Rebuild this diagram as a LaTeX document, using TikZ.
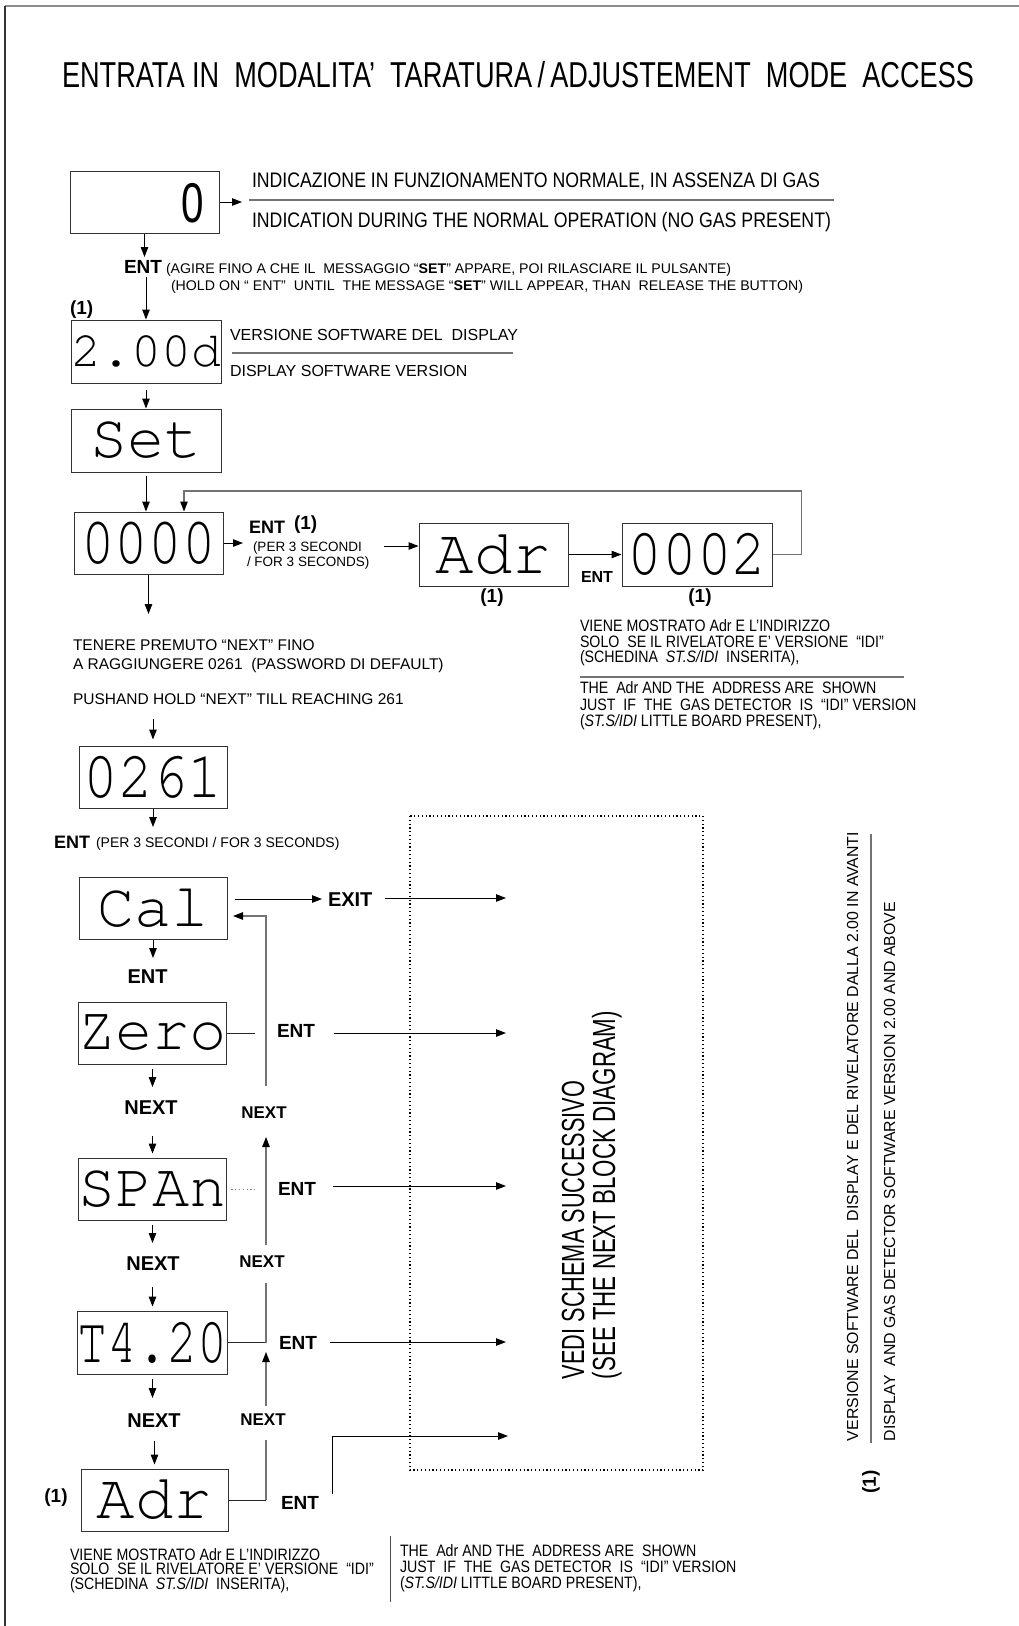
\documentclass[tikz,border=0pt]{standalone}
\usepackage{fontspec}
\usepackage{graphicx}
\usetikzlibrary{arrows.meta,calc}
\setmainfont{Liberation Sans}
\newfontfamily\ar{Liberation Sans}
\newfontfamily\arn{Liberation Sans}[FakeStretch=0.86]
\newfontfamily\mo{texgyrecursor-regular.otf}
\newcommand\fs[1]{\fontsize{#1}{#1}\selectfont}
\newcommand\rw[2]{\resizebox{#1pt}{\height}{#2}}
\begin{document}
\begin{tikzpicture}[x=1pt,y=-1pt,
  box/.style={draw=black!80, line width=1pt, inner sep=0, minimum width=149pt, minimum height=62pt},
  tx/.style={anchor=base west, inner sep=0, outer sep=0},
  lab/.style={inner sep=0, outer sep=0},
  arw/.style={line width=1pt, -{Triangle[length=10pt,width=7.5pt]}},
  ln/.style={line width=1pt, draw=black!85},
  gl/.style={line width=1.2pt, draw=black!55},
  gtip/.style={-{Triangle[length=10pt,width=7.5pt,color=black]}},
  rul/.style={line width=1.1pt, draw=black!55},
  dots/.style={line width=1.1pt, dash pattern=on 1.2pt off 2.6pt}]
\useasboundingbox (0,0) rectangle (1019,1626);
\fill[white] (0,0) rectangle (1019,1626);
% frame
\draw[line width=2.5pt, black!45] (5,6) -- (1019,6);
\draw[line width=1.2pt, black!80] (5,6) -- (5,1626);
% title
\node[tx] (title) at (62,87) {\arn\fs{36}\rw{912}{ENTRATA IN\ \ MODALITA’\ \ TARATURA\,/\,ADJUSTEMENT\ \ MODE\ \ ACCESS}};

% box 0
\node[box] (b0) at (144.5,202) {};
\node[lab] (d0) at (193,203) {\ar\fs{56}\scalebox{0.72}[1]{0}};
\coordinate (b0e) at (242,202);
\draw[arw] (b0.east) -- (b0e);
\node[tx] (t1) at (252,187) {\arn\fs{21}\rw{568}{INDICAZIONE IN FUNZIONAMENTO NORMALE, IN ASSENZA DI GAS}};
\draw[rul] (249,200) -- (834,200);
\node[tx] (t2) at (252,227) {\arn\fs{21}\rw{579}{INDICATION DURING THE NORMAL OPERATION (NO GAS PRESENT)}};
\coordinate (b0d) at (144.5,257);
\draw[arw] (b0.south) -- (b0d);
\node[tx] (e1) at (124,273) {\ar\bfseries\fs{19}ENT};
\node[tx] (p1) at (166,273) {\arn\fs{14}\rw{565}{(AGIRE FINO A CHE IL\ \ MESSAGGIO “\textbf{SET}” APPARE, POI RILASCIARE IL PULSANTE)}};
\node[tx] (p2) at (171,290) {\arn\fs{14}\rw{632}{(HOLD ON “ ENT”\ \ UNTIL\ \ THE MESSAGE “\textbf{SET}” WILL APPEAR, THAN\ \ RELEASE THE BUTTON)}};
\node[tx] (n1a) at (70,314) {\ar\bfseries\fs{19}(1)};

% 2.00d
\node[box, minimum width=150pt, minimum height=63pt] (b200d) at (146,351.5) {\mo\fs{50}2.00d};
\coordinate (c1) at (146,277);
\draw[arw] (c1) -- (b200d.north);
\node[tx] (v1) at (230,340) {\ar\fs{16}VERSIONE SOFTWARE DEL\ \ DISPLAY};
\draw[rul] (232,353) -- (513,353);
\node[tx] (v2) at (230,376) {\ar\fs{16}DISPLAY SOFTWARE VERSION};

% Set
\node[box, minimum width=150pt, minimum height=63pt] (bset) at (146,440.5) {\mo\fs{62}Set};
\draw[arw, shorten <=6pt] (b200d.south) -- (bset.north);

% 0000
\node[box] (b0000) at (148.5,543) {\mo\fs{56}\scalebox{1}[1.2]{0000}};
\draw[arw, shorten <=3pt] (bset.south) -- (bset.south |- b0000.north);
\coordinate (b0000e) at (243,543);
\draw[arw] (b0000.east) -- (b0000e);
\node[tx] (e2) at (249,533) {\ar\bfseries\fs{18}ENT};
\node[tx] (n1b) at (294,529) {\ar\bfseries\fs{19}(1)};
\node[tx] (p3) at (253,551) {\ar\fs{13.5}(PER 3 SECONDI};
\node[tx] (p4) at (247,566) {\ar\fs{13.5}/ FOR 3 SECONDS)};

% Adr / 0002
\node[box, minimum height=63pt] (badr1) at (493.5,554.5) {\mo\fs{64}Adr};
\coordinate (c2) at (384,546);
\draw[arw] (c2) -- (c2 -| badr1.west);
\node[lab] (n1c) at (492,598) {\ar\bfseries\fs{19}(1)};
\node[box, minimum width=150pt, minimum height=63pt] (b0002) at (697,554.5) {\mo\fs{58}\scalebox{1}[1.15]{0002}};
\draw[arw] (badr1.east) -- (b0002.west);
\node[lab] (e3) at (597,577) {\ar\bfseries\fs{16}ENT};
\node[lab] (n1d) at (700,598) {\ar\bfseries\fs{19}(1)};
\coordinate (fbc) at (184,491);
\draw[gl, gtip] (b0002.east) -- ++(29,0) |- (fbc) -- (fbc |- b0000.north);

\node[tx] (u1) at (580,631) {\arn\fs{16.5}VIENE MOSTRATO Adr E L’INDIRIZZO};
\node[tx] (u2) at (580,647) {\arn\fs{16.5}SOLO\ \ SE IL RIVELATORE E’ VERSIONE\ \ “IDI”};
\node[tx] (u3) at (580,662) {\arn\fs{16.5}(SCHEDINA\ \ \textit{ST.S/IDI}\ \ INSERITA),};
\draw[rul] (580,677) -- (904,677);
\node[tx] (u4) at (580,693) {\arn\fs{16.5}THE\ \ Adr AND THE\ \ ADDRESS ARE\ \ SHOWN};
\node[tx] (u5) at (580,710) {\arn\fs{16.5}JUST\ \ IF\ \ THE\ \ GAS DETECTOR\ \ IS\ \ “IDI” VERSION};
\node[tx] (u6) at (580,726) {\arn\fs{16.5}(\textit{ST.S/IDI} LITTLE BOARD PRESENT),};

% password text
\coordinate (b0000d) at (148.5,614);
\draw[arw] (b0000.south) -- (b0000d);
\node[tx] (tn1) at (73,650) {\ar\fs{15.5}TENERE PREMUTO “NEXT” FINO};
\node[tx] (tn2) at (73,669) {\ar\fs{15.5}A RAGGIUNGERE 0261\ \ (PASSWORD DI DEFAULT)};
\node[tx] (tn3) at (73,704) {\ar\fs{15.5}PUSHAND HOLD “NEXT” TILL REACHING 261};

% 0261
\node[box, minimum width=148pt] (b0261) at (153,777) {\mo\fs{58}\scalebox{1}[1.15]{0261}};
\coordinate (c3) at (153,719);
\draw[arw, shorten >=6pt] (c3) -- (b0261.north);
\coordinate (b0261d) at (153,827);
\draw[arw] (b0261.south) -- (b0261d);
\node[tx] (e4) at (54,848) {\ar\bfseries\fs{18}ENT};
\node[tx] (p5) at (96,847) {\ar\fs{14}(PER 3 SECONDI / FOR 3 SECONDS)};

% Cal
\node[box, minimum width=148pt] (bcal) at (153,908) {\mo\fs{62}Cal};
\coordinate (calx) at (322,899);
\draw[arw, shorten <=7pt] (bcal.east |- calx) -- (calx);
\node[tx] (ex) at (328,906) {\ar\bfseries\fs{20}EXIT};
\coordinate (c4) at (385,898);
\coordinate (c4e) at (506,898);
\draw[arw] (c4) -- (c4e);
\coordinate (bcald) at (153,958);
\draw[arw] (bcal.south) -- (bcald);
\node[lab] (e5) at (147.5,977) {\ar\bfseries\fs{20}ENT};

% Zero
\node[box, minimum width=147pt] (bzero) at (152.5,1033) {\mo\fs{62}Zero};
\coordinate (zs) at (255,1033);
\draw[ln] (bzero.east) -- (zs);
\node[anchor=west, lab] (e6) at (277,1031) {\ar\bfseries\fs{19}ENT};
\coordinate (z1) at (334,1033);
\coordinate (z1e) at (506,1033);
\draw[arw] (z1) -- (z1e);
\coordinate (zd) at (152.5,1087);
\draw[arw, shorten <=4pt] (bzero.south) -- (zd);
\node[lab] (nx1) at (151,1108) {\ar\bfseries\fs{20}NEXT};

% SPAn
\node[box, minimum width=147pt] (bspan) at (152.5,1189) {\mo\fs{62}SPAn};
\coordinate (c5) at (152.5,1136);
\draw[arw, shorten >=4pt] (c5) -- (bspan.north);
\coordinate (ss) at (256,1189);
\draw[dots, black!50, line width=0.8pt] ([xshift=4pt]bspan.east) -- (ss);
\node[anchor=west, lab] (e7) at (278,1189) {\ar\bfseries\fs{19}ENT};
\coordinate (s1) at (333,1186);
\coordinate (s1e) at (506,1186);
\draw[arw] (s1) -- (s1e);
\coordinate (sd) at (152.5,1243);
\draw[arw, shorten <=4pt] (bspan.south) -- (sd);
\node[lab] (nx2) at (153,1264) {\ar\bfseries\fs{20}NEXT};

% T4.20
\node[box, minimum width=147pt, minimum height=63pt] (bt420) at (152.5,1342.5) {\mo\fs{50}\scalebox{1}[1.3]{T4.20}};
\coordinate (c6) at (152.5,1287);
\draw[arw, shorten >=4pt] (c6) -- (bt420.north);
\coordinate (tj) at (266,1342.5);
\draw[ln] (bt420.east) -- (tj);
\node[anchor=west, lab] (e8) at (279,1343) {\ar\bfseries\fs{19}ENT};
\coordinate (t1s) at (330,1342);
\coordinate (t1e) at (506,1342);
\draw[arw] (t1s) -- (t1e);
\coordinate (td) at (152.5,1398);
\draw[arw, shorten <=4pt] (bt420.south) -- (td);
\node[lab] (nx3) at (154,1421) {\ar\bfseries\fs{20}NEXT};

% Adr bottom
\node[box, minimum width=147pt] (badr2) at (154.5,1500) {\mo\fs{64}Adr};
\coordinate (c7) at (154.5,1441);
\draw[arw, shorten >=4pt] (c7) -- (badr2.north);
\node[lab] (n1e) at (56,1498) {\ar\bfseries\fs{19}(1)};
\coordinate (aj) at (266,1500);
\draw[ln] (badr2.east) -- (aj);
\node[anchor=west, lab] (e9) at (281,1503) {\ar\bfseries\fs{19}ENT};
\coordinate (a1) at (332,1494);
\coordinate (a1e) at (508,1436);
\draw[arw] (a1) |- (a1e);

% NEXT chain back to Cal
\coordinate (k1) at (266,1440);
\draw[gl] (aj) -- (k1);
\node[lab] (nx4) at (263,1420) {\ar\bfseries\fs{17}NEXT};
\coordinate (k2) at (266,1406);
\coordinate (k2e) at (266,1352);
\draw[gl, gtip] (k2) -- (k2e);
\coordinate (k3) at (266,1283);
\draw[gl] (tj) -- (k3);
\node[lab] (nx5) at (262,1262) {\ar\bfseries\fs{17}NEXT};
\coordinate (k4) at (266,1245);
\coordinate (k4e) at (266,1137);
\draw[gl, gtip] (k4) -- (k4e);
\node[lab] (nx6) at (264,1113) {\ar\bfseries\fs{17}NEXT};
\coordinate (k5) at (266,1086);
\coordinate (k6) at (266,916);
\coordinate (calin) at (233,916);
\draw[gl, gtip] (k5) -- (k6) -- (calin);

% dotted block
\draw[dots] (410,816) rectangle (703,1470);
\node[tx, rotate=90] (vd1) at (584,1379) {\arn\fs{32}\rw{298}{VEDI SCHEMA SUCCESSIVO}};
\node[tx, rotate=90] (vd2) at (615,1379) {\arn\fs{32}\rw{368}{(SEE THE NEXT BLOCK DIAGRAM)}};

% right note
\node[tx, rotate=90] (rv1) at (858,1441) {\arn\fs{16}\rw{609}{VERSIONE SOFTWARE DEL\ \ DISPLAY E DEL RIVELATORE DALLA 2.00 IN AVANTI}};
\draw[rul] (871,834) -- (871,1443);
\node[tx, rotate=90] (rv2) at (895,1441) {\arn\fs{16}\rw{539}{DISPLAY\ \ AND GAS DETECTOR SOFTWARE VERSION 2.00 AND ABOVE}};
\node[lab, rotate=90] (n1r) at (871,1482) {\ar\bfseries\fs{19}(1)};

% bottom notes
\node[tx] (w1) at (70,1560) {\arn\fs{16.5}VIENE MOSTRATO Adr E L’INDIRIZZO};
\node[tx] (w2) at (70,1574) {\arn\fs{16.5}SOLO\ \ SE IL RIVELATORE E’ VERSIONE\ \ “IDI”};
\node[tx] (w3) at (70,1589) {\arn\fs{16.5}(SCHEDINA\ \ \textit{ST.S/IDI}\ \ INSERITA),};
\draw[line width=1pt, black!70] (390,1536) -- (390,1602);
\node[tx] (w4) at (400,1556) {\arn\fs{16.5}THE\ \ Adr AND THE\ \ ADDRESS ARE\ \ SHOWN};
\node[tx] (w5) at (400,1572) {\arn\fs{16.5}JUST\ \ IF\ \ THE\ \ GAS DETECTOR\ \ IS\ \ “IDI” VERSION};
\node[tx] (w6) at (400,1588) {\arn\fs{16.5}(\textit{ST.S/IDI} LITTLE BOARD PRESENT),};
\end{tikzpicture}
\end{document}
